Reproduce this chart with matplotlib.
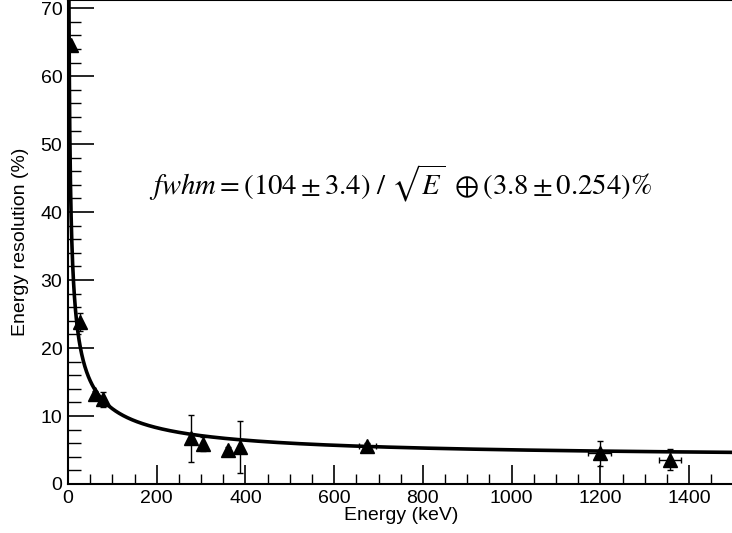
import numpy as np
import matplotlib
matplotlib.use("Agg")
import matplotlib.pyplot as plt
from matplotlib.ticker import MultipleLocator

energy = [5.9, 28, 60, 80, 278, 305, 360, 387, 675, 1198, 1356]
resolution = [64.6, 23.8, 13.3, 12.5, 6.7, 5.9, 5.0, 5.4, 5.6, 4.5, 3.6]
res_err = [0.0, 1.3, 0.4, 1.1, 3.4, 1.0, 0.4, 3.8, 0.4, 1.8, 1.6]
e_err = [0, 0, 0, 0, 0, 0, 0, 0, 20, 25, 25]

# fit parameters as printed in the label
p_stat = 104.0
p_const = 3.8

plt.rcParams['font.family'] = ['Liberation Sans', 'DejaVu Sans']
plt.rcParams['mathtext.fontset'] = 'stix'

fig = plt.figure(figsize=(7.32, 5.33), dpi=100)
ax = fig.add_axes([68 / 732, 49 / 533, 665.5 / 732, 484 / 533])

e_fit = np.linspace(0.5, 1500, 3000)
fwhm = np.sqrt((p_stat / np.sqrt(e_fit)) ** 2 + p_const ** 2)
ax.plot(e_fit, fwhm, color='black', lw=2.6, zorder=2)

ax.errorbar(energy, resolution, yerr=res_err, xerr=e_err, fmt='^',
            color='black', ms=10, lw=1, capsize=2.5, capthick=1, zorder=3)

ax.set_xlim(0, 1500)
ax.set_ylim(0, 71.2)
ax.xaxis.set_major_locator(MultipleLocator(200))
ax.xaxis.set_minor_locator(MultipleLocator(50))
ax.yaxis.set_major_locator(MultipleLocator(10))
ax.yaxis.set_minor_locator(MultipleLocator(2))
ax.tick_params(which='major', direction='in', length=14, width=1.2,
               labelsize=14, pad=4)
ax.tick_params(which='minor', direction='in', length=7, width=1)
ax.tick_params(axis='y', which='major', length=19)
ax.tick_params(axis='y', which='minor', length=9)
for s in ax.spines.values():
    s.set_linewidth(1.5)

ax.set_xlabel('Energy (keV)', fontsize=14, labelpad=0)
ax.set_ylabel('Energy resolution (%)', fontsize=14, labelpad=8)

ax.text(0.5, 44.2 / 71.2,
        r'$fwhm = (104 \pm 3.4)\ /\ \sqrt{E}\ \oplus (3.8 \pm 0.254)\%$',
        fontsize=20.7, ha='center', va='center', transform=ax.transAxes)

fig.savefig('out.png', dpi=100)
